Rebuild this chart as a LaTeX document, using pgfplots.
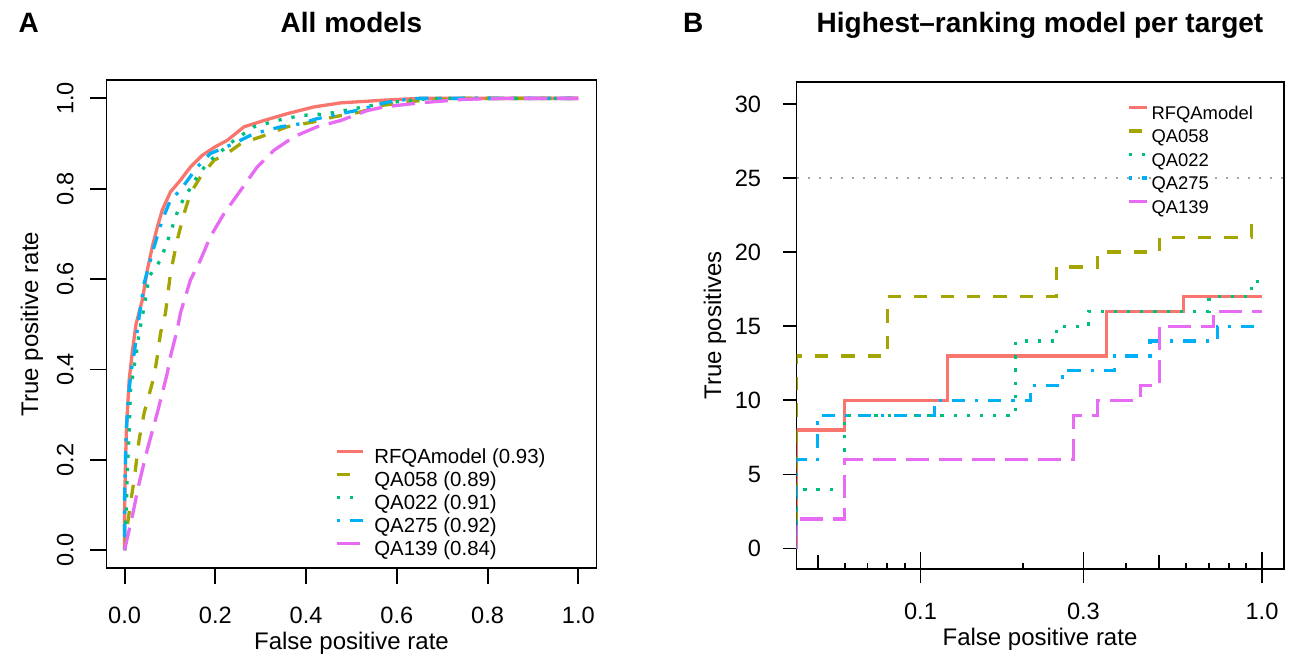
\documentclass[border=0pt]{standalone}
\usepackage{fontspec}
\setmainfont{Liberation Sans}
\usepackage{pgfplots}
\pgfplotsset{compat=1.18}

\definecolor{cRF}{HTML}{F8766D}
\definecolor{cA058}{HTML}{A3A500}
\definecolor{cA022}{HTML}{00BF7D}
\definecolor{cA275}{HTML}{00B0F6}
\definecolor{cA139}{HTML}{E76BF3}

% R line types at lwd ~ 1.65pt
\tikzset{
  lw/.style={line width=1.65pt},
  lsolid/.style={lw},
  ldash/.style={lw, dash pattern=on 6.6pt off 6.6pt},
  ldot/.style={lw, dash pattern=on 1.65pt off 4.95pt},
  ldotdash/.style={lw, dash pattern=on 1.65pt off 4.95pt on 6.6pt off 4.95pt},
  llong/.style={lw, dash pattern=on 11.55pt off 4.95pt},
}

\pgfplotsset{
  rbase/.style={
    scale only axis, anchor=south west,
    axis line style={line width=0.9pt},
    tick style={black, line width=0.9pt},
    xtick pos=bottom, ytick pos=left,
    /pgf/number format/assume math mode=true,
    ticklabel style={font=\fontsize{11.8}{13}\selectfont, inner sep=0pt},
    legend cell align=left,
    legend style={draw=none, fill=none, inner sep=0pt, outer sep=0pt,
      nodes={inner sep=0pt, text height=7.5pt, text depth=2.5pt}},
  },
}

\begin{document}
\begin{tikzpicture}
\useasboundingbox (0,0) rectangle (647pt,328.5pt);

% ---------------- A: all models ----------------
\begin{axis}[rbase,
  at={(53.25pt,44.35pt)}, width=245pt, height=244pt,
  xmin=-0.04, xmax=1.04, ymin=-0.04, ymax=1.04,
  xtick={0,0.2,0.4,0.6,0.8,1}, xticklabels={0.0,0.2,0.4,0.6,0.8,1.0},
  ytick={0,0.2,0.4,0.6,0.8,1}, yticklabels={0.0,0.2,0.4,0.6,0.8,1.0},
  tick align=outside, major tick length=8pt,
  xticklabel style={anchor=base, yshift=-19.5pt},
  yticklabel style={rotate=90, anchor=base, yshift=8.5pt},
  legend style={at={(0.4663,0.2447)}, anchor=north west,
    row sep=1.5pt, column sep=5pt, font=\fontsize{10.2}{12}\selectfont},
  legend image code/.code={\path (0pt,0pt); \draw[#1] (0pt,3.6pt) -- (13pt,3.6pt);},
]
\addplot[cRF, lsolid] coordinates {
  (0,0) (0,0.10) (0.002,0.20) (0.004,0.27) (0.010,0.377) (0.017,0.44)
  (0.025,0.50) (0.039,0.554) (0.050,0.62) (0.061,0.672) (0.072,0.715)
  (0.083,0.753) (0.101,0.793) (0.123,0.819) (0.145,0.848) (0.171,0.874)
  (0.200,0.893) (0.226,0.907) (0.263,0.937) (0.307,0.951) (0.358,0.966)
  (0.417,0.981) (0.476,0.990) (0.571,0.996) (0.650,1.0) (1,1)
};
\addlegendentry{RFQAmodel (0.93)}
\addplot[cA058, ldash] coordinates {
  (0,0) (0.006,0.054) (0.013,0.105) (0.021,0.157) (0.032,0.245)
  (0.043,0.304) (0.065,0.385) (0.072,0.429) (0.079,0.480) (0.090,0.525)
  (0.101,0.613) (0.116,0.687) (0.131,0.745) (0.145,0.790) (0.167,0.826)
  (0.197,0.863) (0.226,0.878) (0.256,0.900) (0.300,0.915) (0.358,0.937)
  (0.417,0.948) (0.461,0.959) (0.520,0.970) (0.571,0.985) (0.650,0.995)
  (0.750,1.0) (1,1)
};
\addlegendentry{QA058 (0.89)}
\addplot[cA022, ldot] coordinates {
  (0,0) (0.002,0.046) (0.006,0.172) (0.010,0.267) (0.013,0.355)
  (0.021,0.407) (0.028,0.451) (0.032,0.481) (0.043,0.539) (0.054,0.606)
  (0.079,0.642) (0.098,0.694) (0.120,0.760) (0.138,0.790) (0.164,0.834)
  (0.189,0.863) (0.241,0.907) (0.285,0.937) (0.336,0.951) (0.388,0.962)
  (0.446,0.966) (0.505,0.977) (0.571,0.989) (0.650,0.998) (0.700,1.0) (1,1)
};
\addlegendentry{QA022 (0.91)}
\addplot[cA275, ldotdash] coordinates {
  (0,0) (0,0.12) (0.003,0.25) (0.008,0.34) (0.015,0.40) (0.021,0.436)
  (0.032,0.517) (0.043,0.591) (0.065,0.672) (0.083,0.731) (0.101,0.775)
  (0.123,0.797) (0.160,0.848) (0.189,0.878) (0.241,0.900) (0.285,0.922)
  (0.344,0.937) (0.388,0.944) (0.424,0.955) (0.476,0.966) (0.520,0.975)
  (0.571,0.990) (0.608,0.996) (0.650,1.0) (1,1)
};
\addlegendentry{QA275 (0.92)}
\addplot[cA139, llong] coordinates {
  (0,0) (0.002,0.010) (0.017,0.076) (0.032,0.149) (0.050,0.223)
  (0.072,0.304) (0.094,0.392) (0.101,0.429) (0.116,0.488) (0.123,0.525)
  (0.145,0.598) (0.167,0.642) (0.189,0.694) (0.219,0.745) (0.256,0.797)
  (0.292,0.848) (0.329,0.885) (0.373,0.915) (0.424,0.937) (0.476,0.951)
  (0.535,0.973) (0.571,0.981) (0.650,0.990) (0.750,0.998) (0.850,1.0) (1,1)
};
\addlegendentry{QA139 (0.84)}
\end{axis}

% ---------------- B: highest-ranking model per target ----------------
\begin{axis}[rbase,
  at={(398.25pt,43.85pt)}, width=243.75pt, height=243.8pt,
  xmode=log, xmin=0.04335, xmax=1.16, ymin=-1.4, ymax=31.5,
  tick align=inside,
  xtick={0.05,0.5}, xticklabels={},
  minor xtick={0.06,0.07,0.08,0.09,0.2,0.4,0.6,0.7,0.8,0.9},
  extra x ticks={0.1,0.3,1}, extra x tick labels={0.1,0.3,1.0},
  extra x tick style={major tick length=15.85pt,
    every major x tick/.append style={yshift=-7pt}},
  ytick={0,5,10,15,20,25,30},
  major tick length=7pt, minor tick length=3pt,
  every major y tick/.append style={xshift=-7pt},
  xticklabel style={anchor=base, yshift=-25.35pt},
  yticklabel style={anchor=east, xshift=-17.5pt},
  legend style={at={(0.6786,0.9539)}, anchor=north west,
    row sep=1.75pt, column sep=1.5pt, font=\fontsize{9.2}{11}\selectfont},
  legend image code/.code={\path (0pt,0pt); \draw[#1] (0pt,3.3pt) -- (9pt,3.3pt);},
]
\addplot[gray!70, line width=1pt, dash pattern=on 1pt off 4.5pt, forget plot]
  coordinates {(0.04335,25) (1.16,25)};
\addplot[cRF, lsolid, const plot] coordinates {
  (0.04335,0) (0.04335,8) (0.06,10) (0.12,13) (0.35,16) (0.59,17) (1,17)
};
\addlegendentry{RFQAmodel}
\addplot[cA058, ldash, const plot] coordinates {
  (0.04335,0) (0.04335,13) (0.08,17) (0.25,19) (0.33,20) (0.50,21)
  (0.93,22) (1,22)
};
\addlegendentry{QA058}
\addplot[cA022, ldot, const plot] coordinates {
  (0.04335,0) (0.04335,4) (0.06,9) (0.19,14) (0.25,15) (0.31,16)
  (0.70,17) (0.93,18) (1,18)
};
\addlegendentry{QA022}
\addplot[cA275, ldotdash, const plot] coordinates {
  (0.04335,0) (0.04335,6) (0.05,9) (0.11,10) (0.21,11) (0.26,12)
  (0.37,13) (0.47,14) (0.74,15) (1,15)
};
\addlegendentry{QA275}
\addplot[cA139, llong, const plot] coordinates {
  (0.04335,0) (0.04335,2) (0.06,6) (0.28,9) (0.33,10) (0.44,11)
  (0.50,15) (0.72,16) (1,16)
};
\addlegendentry{QA139}
\end{axis}

% titles, panel letters and axis labels
\node[anchor=base west, font=\fontsize{14}{16}\selectfont\bfseries] at (5.8pt,312.25pt) {A};
\node[anchor=base, font=\fontsize{14}{16}\selectfont\bfseries] at (175.75pt,312.25pt) {All models};
\node[anchor=base west, font=\fontsize{14}{16}\selectfont\bfseries] at (338pt,312.25pt) {B};
\node[anchor=base, font=\fontsize{14}{16}\selectfont\bfseries] at (520pt,312.25pt) {Highest\textendash ranking model per target};

\node[anchor=base, font=\fontsize{12}{14}\selectfont] at (175.75pt,3.5pt) {False positive rate};
\node[anchor=base, rotate=90, font=\fontsize{12}{14}\selectfont] at (19pt,166.5pt) {True positive rate};
\node[anchor=base, font=\fontsize{12}{14}\selectfont] at (520pt,5.5pt) {False positive rate};
\node[anchor=base, rotate=90, font=\fontsize{12}{14}\selectfont] at (360.5pt,165.75pt) {True positives};
\end{tikzpicture}
\end{document}
